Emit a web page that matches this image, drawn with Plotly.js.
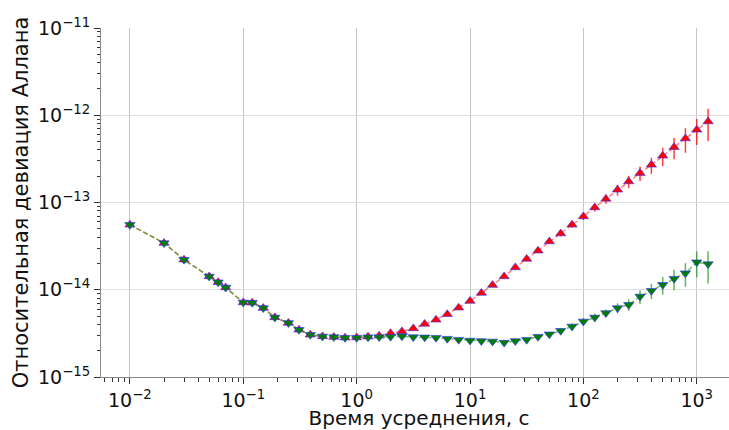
<!DOCTYPE html>
<html>
<head>
<meta charset="utf-8">
<script src="https://cdn.plot.ly/plotly-3.0.1.min.js"></script>
<style>
html, body { margin: 0; padding: 0; overflow: hidden; background: #fff; }
#chart { width: 737px; height: 430px; }
</style>
</head>
<body>
<div id="chart"></div>
<script>
// Averaging times, s
const tau = [0.01, 0.02, 0.03, 0.05, 0.06, 0.07, 0.1, 0.12, 0.15, 0.19, 0.25, 0.31, 0.39, 0.5, 0.63, 0.79,
  1, 1.26, 1.58, 1.99, 2.51, 3.16, 3.98, 5.01, 6.3, 7.94,
  10, 12.6, 15.8, 20, 25.1, 31.6, 39.8, 50.1, 63.1, 79.4,
  100, 126, 158, 200, 251, 316, 398, 501, 631, 794,
  1000, 1259];

// Series 1 (red, up-triangles)
const devRed = [5.55e-14, 3.43e-14, 2.21e-14, 1.42e-14, 1.22e-14, 1.06e-14, 7.16e-15, 7.1e-15, 6.17e-15, 4.82e-15, 4.16e-15, 3.48e-15, 3.05e-15, 2.92e-15, 2.87e-15, 2.82e-15,
  2.84e-15, 2.9e-15, 2.97e-15, 3.18e-15, 3.33e-15, 3.6e-15, 4.06e-15, 4.53e-15, 5.24e-15, 6.22e-15,
  7.43e-15, 9.17e-15, 1.13e-14, 1.42e-14, 1.8e-14, 2.25e-14, 2.8e-14, 3.57e-14, 4.4e-14, 5.56e-14,
  6.92e-14, 8.77e-14, 1.1e-13, 1.4e-13, 1.74e-13, 2.17e-13, 2.7e-13, 3.43e-13, 4.31e-13, 5.41e-13,
  6.81e-13, 8.47e-13];
const errRed = [0.6e-15, 0.5e-15, 0.4e-15, 0.35e-15, 0.3e-15, 0.3e-15, 0.2e-15, 0.2e-15, 0.2e-15, 0.15e-15, 0.15e-15, 0.12e-15, 0.1e-15, 0.1e-15, 0.1e-15, 0.1e-15,
  0.1e-15, 0.1e-15, 0.1e-15, 0.12e-15, 0.13e-15, 0.14e-15, 0.15e-15, 0.16e-15, 0.18e-15, 0.19e-15,
  0.2e-15, 0.28e-15, 0.4e-15, 0.57e-15, 0.8e-15, 1.1e-15, 1.5e-15, 2.1e-15, 3.1e-15, 4.4e-15,
  6.2e-15, 8.8e-15, 1.3e-14, 2.0e-14, 2.8e-14, 4.1e-14, 5.7e-14, 8.2e-14, 1.17e-13, 1.7e-13,
  2.25e-13, 3.4e-13];

// Series 2 (green, down-triangles)
const devGreen = [5.55e-14, 3.43e-14, 2.21e-14, 1.42e-14, 1.22e-14, 1.06e-14, 7.16e-15, 7.1e-15, 6.17e-15, 4.82e-15, 4.16e-15, 3.48e-15, 3.05e-15, 2.92e-15, 2.87e-15, 2.82e-15,
  2.82e-15, 2.86e-15, 2.87e-15, 2.9e-15, 2.93e-15, 2.87e-15, 2.85e-15, 2.82e-15, 2.75e-15, 2.68e-15,
  2.62e-15, 2.59e-15, 2.56e-15, 2.48e-15, 2.59e-15, 2.68e-15, 2.9e-15, 3.09e-15, 3.39e-15, 3.8e-15,
  4.34e-15, 4.82e-15, 5.41e-15, 6.17e-15, 6.73e-15, 8.38e-15, 9.74e-15, 1.14e-14, 1.34e-14, 1.55e-14,
  2.07e-14, 1.97e-14];
const errGreen = [0.6e-15, 0.5e-15, 0.4e-15, 0.35e-15, 0.3e-15, 0.3e-15, 0.2e-15, 0.2e-15, 0.2e-15, 0.15e-15, 0.15e-15, 0.12e-15, 0.1e-15, 0.1e-15, 0.1e-15, 0.1e-15,
  0.05e-15, 0.05e-15, 0.05e-15, 0.05e-15, 0.05e-15, 0.05e-15, 0.05e-15, 0.06e-15, 0.06e-15, 0.07e-15,
  0.07e-15, 0.08e-15, 0.09e-15, 0.1e-15, 0.12e-15, 0.14e-15, 0.17e-15, 0.2e-15, 0.25e-15, 0.3e-15,
  0.39e-15, 0.48e-15, 0.54e-15, 0.8e-15, 1.0e-15, 1.5e-15, 1.9e-15, 2.6e-15, 3.5e-15, 4.7e-15,
  6.8e-15, 7.9e-15];

// Tick labels
const xTickVals = [1e-2, 1e-1, 1e0, 1e1, 1e2, 1e3];
const xTickText = ['10<sup>\u22122</sup>', '10<sup>\u22121</sup>', '10<sup>0</sup>', '10<sup>1</sup>', '10<sup>2</sup>', '10<sup>3</sup>'];
const yTickVals = [1e-15, 1e-14, 1e-13, 1e-12, 1e-11];
const yTickText = ['10<sup>\u221215</sup>', '10<sup>\u221214</sup>', '10<sup>\u221213</sup>', '10<sup>\u221212</sup>', '10<sup>\u221211</sup>'];

const xTitle = 'Время усреднения, с';
const yTitle = 'Относительная девиация Аллана';

function minorTicks(lo, hi) {
  const v = [];
  for (let e = lo; e < hi; e++) for (let m = 2; m <= 9; m++) v.push(m * Math.pow(10, e));
  return v;
}

const FONT = 'DejaVu Sans, sans-serif';

const traces = [
  {
    x: tau, y: devRed, type: 'scatter', mode: 'lines+markers',
    line: { color: 'rgba(255,60,60,0.65)', width: 1.5, dash: '5px,2.5px' },
    marker: { symbol: 'triangle-up', size: 9, color: '#ff0000', line: { color: 'rgba(50,50,255,0.6)', width: 1 } },
    error_y: { type: 'data', array: errRed, visible: true, color: 'rgba(255,0,0,0.75)', thickness: 1.5, width: 0 },
    showlegend: false, hoverinfo: 'x+y'
  },
  {
    x: tau, y: devGreen, type: 'scatter', mode: 'lines+markers',
    line: { color: 'rgba(60,160,40,0.7)', width: 1.5, dash: '5px,2.5px' },
    marker: { symbol: 'triangle-down', size: 9, color: '#007d00', line: { color: 'rgba(50,50,255,0.6)', width: 1 } },
    error_y: { type: 'data', array: errGreen, visible: true, color: 'rgba(30,150,30,0.7)', thickness: 1.5, width: 0 },
    showlegend: false, hoverinfo: 'x+y'
  }
];

const layout = {
  width: 737, height: 430,
  margin: { l: 101, r: 0, t: 28, b: 53 },
  paper_bgcolor: '#ffffff', plot_bgcolor: '#ffffff',
  font: { family: FONT, color: '#111' },
  showlegend: false,
  xaxis: {
    type: 'log', range: [-2.255, 3.355], autorange: false,
    tickmode: 'array', tickvals: xTickVals, ticktext: xTickText,
    ticks: 'outside', ticklen: 6, tickwidth: 1, tickcolor: '#333',
    minor: { tickmode: 'array', tickvals: minorTicks(-3, 4), ticks: 'outside', ticklen: 3.5, tickwidth: 1, tickcolor: '#333', showgrid: false },
    showgrid: true, gridcolor: '#c6c6c6', gridwidth: 1,
    showline: true, linecolor: '#888', linewidth: 1, zeroline: false,
    tickfont: { family: FONT, size: 19, color: '#111' },
    title: { text: xTitle, font: { family: FONT, size: 20, color: '#111' }, standoff: 5 }
  },
  yaxis: {
    type: 'log', range: [-15, -11], autorange: false,
    tickmode: 'array', tickvals: yTickVals, ticktext: yTickText,
    ticks: 'outside', ticklen: 6, tickwidth: 1, tickcolor: '#333',
    minor: { tickmode: 'array', tickvals: minorTicks(-15, -11), ticks: 'outside', ticklen: 3.5, tickwidth: 1, tickcolor: '#333', showgrid: false },
    showgrid: true, gridcolor: '#dedede', gridwidth: 1,
    showline: true, linecolor: '#888', linewidth: 1, zeroline: false,
    tickfont: { family: FONT, size: 19, color: '#111' },
    title: { text: yTitle, font: { family: FONT, size: 21, color: '#111' }, standoff: 3 }
  }
};

Plotly.newPlot('chart', traces, layout, { displayModeBar: false, staticPlot: true });
</script>
</body>
</html>
